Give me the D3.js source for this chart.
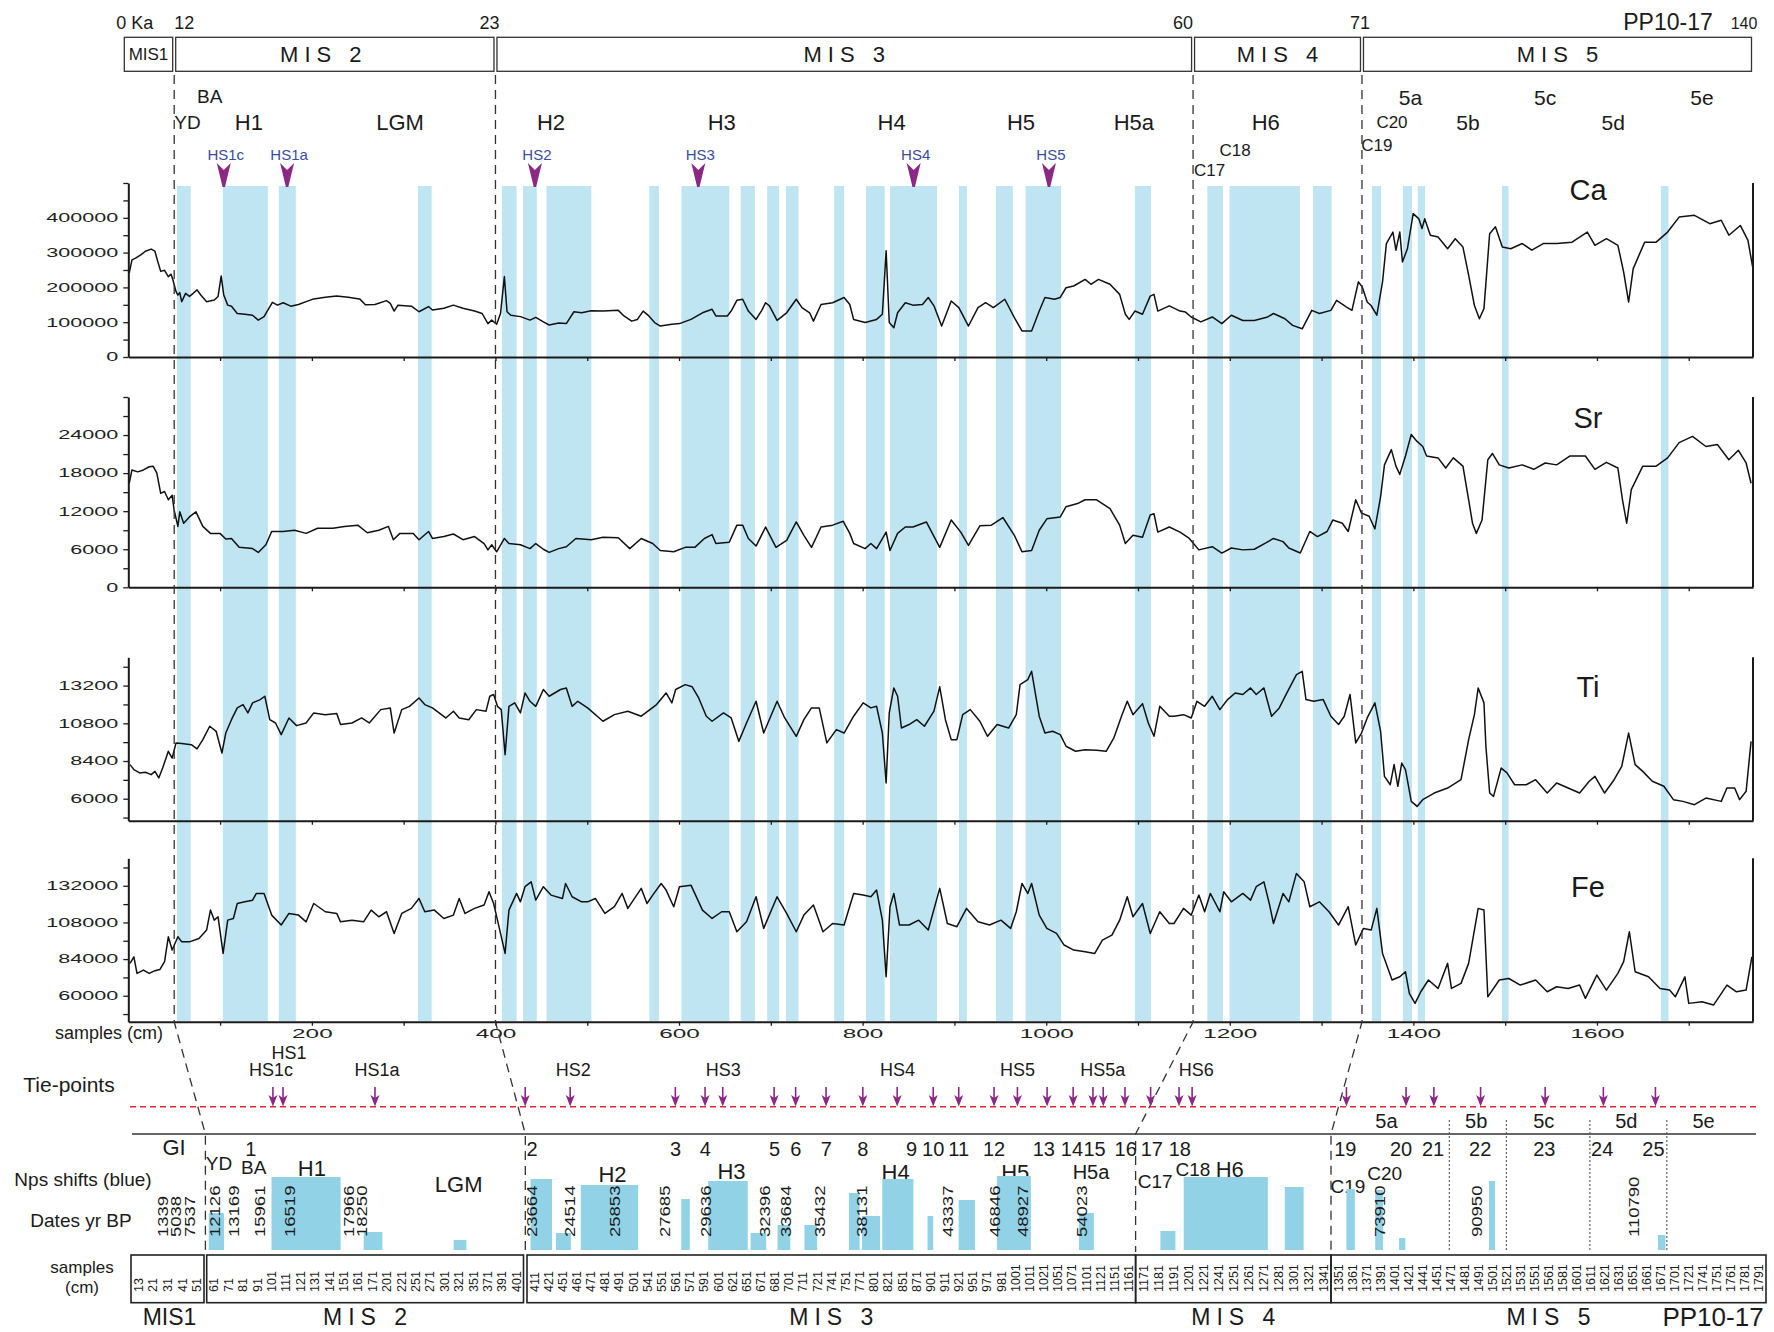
<!DOCTYPE html>
<html>
<head>
<meta charset="utf-8">
<script src="https://cdn.jsdelivr.net/npm/d3@7"></script>
<style>
  body { margin: 0; background: #fff; }
  svg { display: block; }
</style>
</head>
<body>
<div id="chart"></div>
<script>
// ---------- data ----------
// XRF counts per depth (cm)
const caData = [[1,241000],[4,279000],[8,284000],[14,294000],[18.6,304000],[24.9,310000],[29,304000],[32,275000],[35.3,246000],[39.5,249000],[43.6,231000],[46.6,238000],[48.6,222000],[52,188000],[54,178000],[56,185000],[58.2,159000],[62.4,183000],[66.6,174000],[70.7,183000],[74.9,193000],[79,178000],[85.3,159000],[93.7,164000],[97.8,174000],[101.2,233000],[104,178000],[108.3,149000],[112.4,146000],[118.7,125000],[127,123000],[135.4,120000],[141.6,106000],[147.9,116000],[152,135000],[157,157000],[162.5,149000],[168.7,156000],[177,146000],[185.4,151000],[193.7,159000],[202,167000],[214.6,172000],[227,175000],[239.6,172000],[252,167000],[258.3,150000],[268.7,151000],[281.3,162000],[285.4,154000],[289.6,132000],[293.8,149000],[308.4,146000],[316.7,130000],[327.1,145000],[331.3,135000],[343.8,140000],[354.2,149000],[364.6,140000],[377.2,132000],[385.5,125000],[391.8,96000],[395.9,106000],[401.3,94000],[405.5,125000],[409.7,231000],[412.6,130000],[416.8,120000],[427.2,116000],[437.6,106000],[443.9,114000],[452.2,101000],[458.5,92000],[468.9,98000],[477.2,96000],[485.5,130000],[493.9,127000],[504.3,133000],[517.1,132000],[533.8,134000],[540,118000],[548.4,103000],[554.6,108000],[560.9,132000],[567.1,118000],[573.4,99000],[579.6,89000],[592.2,94000],[600.5,96000],[613,108000],[625.5,127000],[636,137000],[640.1,118000],[652.6,118000],[656.8,132000],[663,163000],[669.3,166000],[675.5,132000],[683.9,108000],[690.1,134000],[694.3,156000],[698.5,147000],[706.8,105000],[717.2,127000],[727.7,166000],[733.9,142000],[742.3,127000],[746.4,103000],[754.7,151000],[767.3,156000],[779.8,171000],[786,151000],[790.2,108000],[802.7,99000],[815.2,108000],[821.5,123000],[825.6,305000],[829,99000],[834,84000],[838.1,127000],[846.5,156000],[854.8,149000],[865.2,151000],[871.5,171000],[877.7,147000],[886.1,89000],[896.5,161000],[904.8,142000],[915.3,89000],[925.7,142000],[934,156000],[942.4,142000],[954.9,166000],[965.3,113000],[973.6,75000],[984.1,75000],[992.4,132000],[998.6,171000],[1009.1,166000],[1015.3,171000],[1021.6,199000],[1029.9,204000],[1042.4,223000],[1048.7,209000],[1057,223000],[1069.5,209000],[1080,180000],[1086.2,123000],[1090.4,108000],[1096.6,132000],[1104.9,123000],[1113.3,175000],[1117.4,180000],[1121.6,132000],[1134.1,147000],[1145.8,132000],[1151.7,129000],[1158,115000],[1168.4,101000],[1180.9,115000],[1191.3,96000],[1201.7,120000],[1214.2,105000],[1226.7,105000],[1241.3,115000],[1247.6,125000],[1260.1,110000],[1268.4,91000],[1278.9,81000],[1289.3,134000],[1297.6,125000],[1310.1,134000],[1316.4,163000],[1326.8,144000],[1333.1,134000],[1340.1,216000],[1344.3,201000],[1349.7,158000],[1353.9,148000],[1360.2,120000],[1366.4,216000],[1370.6,326000],[1377.7,359000],[1381,307000],[1385.2,359000],[1388.1,273000],[1393.5,311000],[1399.8,412000],[1406,397000],[1409.4,369000],[1412.3,397000],[1418.5,350000],[1426.9,345000],[1437.3,311000],[1445.6,340000],[1454,316000],[1460.2,235000],[1466.5,148000],[1471.9,110000],[1476.9,139000],[1483.1,354000],[1489.4,374000],[1496.9,316000],[1506.1,311000],[1518.6,326000],[1529,307000],[1541.5,326000],[1556.1,326000],[1572.8,330000],[1589.5,359000],[1597.8,321000],[1610.3,340000],[1622.8,321000],[1629.1,244000],[1634.5,158000],[1639.5,254000],[1652,330000],[1664.5,330000],[1677,359000],[1689.5,402000],[1706.2,407000],[1722.9,383000],[1735.4,393000],[1743.7,350000],[1756.2,378000],[1764.5,335000],[1769.6,259000]];

const srData = [[1,16400],[4,18500],[10.3,18200],[16.5,18500],[22.8,19000],[27,19100],[31.1,18000],[35.3,14800],[39.5,15100],[43.6,13800],[47.8,14500],[49.9,12200],[54,9600],[56.1,11900],[60.3,10100],[66.6,11100],[73.7,11900],[81.2,9600],[89.5,8500],[99.9,8500],[106.2,7600],[112.4,7700],[120.8,6300],[135.4,6100],[141.6,5500],[149.9,6700],[156.2,8800],[168.7,8800],[181.2,9000],[193.7,8500],[206.2,9300],[222.9,9300],[235.4,9600],[250,9800],[260.4,8600],[272.9,9000],[283.4,9600],[288.8,7500],[295.9,8500],[310.4,8500],[316.7,7500],[327.1,8800],[331.3,7700],[343.8,8000],[354.2,8400],[364.6,7500],[377.2,8000],[387.6,6900],[391.8,5900],[395.9,6700],[401.3,5600],[409.7,7700],[414.7,6900],[427.2,6700],[437.6,6100],[443.9,6900],[452.2,6000],[458.5,5500],[468.9,6100],[477.2,6400],[487.6,7700],[504.3,7500],[517.1,7900],[533.8,7800],[546.3,6100],[558.8,7700],[571.3,6900],[579.6,5800],[594.2,5600],[606.7,6300],[617.2,6300],[627.6,7700],[636,8300],[640.1,6900],[654.7,7100],[663,9800],[669.3,9800],[675.5,7700],[683.9,6500],[694.3,9500],[705.6,6300],[717.2,7400],[727.7,10300],[736,8200],[744.3,6300],[754.7,9500],[767.3,9800],[778.9,10400],[786,8500],[790.2,6900],[802.7,6100],[809,6900],[815.2,6100],[825.6,8700],[829.8,5800],[838.1,8500],[846.5,9500],[854.8,9500],[869.4,10300],[884,6300],[896.5,10600],[906.9,8700],[915.3,6600],[927.7,9700],[940.3,9800],[952.8,11000],[965.3,8200],[973.6,5600],[984.1,5800],[992.4,9000],[1000.7,10800],[1015.3,11100],[1021.6,12700],[1034.1,13200],[1042.4,13800],[1054.9,13800],[1069.5,12400],[1080,9800],[1086.2,6900],[1094.5,8200],[1104.9,7900],[1113.3,11400],[1117.4,11600],[1121.6,8700],[1134.1,9500],[1145.8,8700],[1155.9,7700],[1166.3,5900],[1180.9,6400],[1191.3,5400],[1201.7,6200],[1214.2,5900],[1226.7,6000],[1239.3,7000],[1247.6,7700],[1258,7200],[1264.3,6200],[1276.8,5400],[1287.2,8800],[1295.5,8000],[1306,8800],[1312.2,10600],[1322.6,10100],[1329,8800],[1337.2,13800],[1343.5,11700],[1351.8,11200],[1358.1,9200],[1364.3,14300],[1368.5,19300],[1376,21700],[1381,19100],[1385.2,17800],[1391.4,20700],[1397.7,24100],[1404,23000],[1410.2,22200],[1414.4,20700],[1426.9,20400],[1435.2,18800],[1443.5,20400],[1454,19100],[1460.2,13800],[1464.4,10100],[1468.6,8500],[1474.8,10600],[1481.1,20100],[1486.1,21100],[1493.6,19300],[1504,18800],[1518.6,19300],[1531.1,18600],[1543.6,19600],[1556.1,19300],[1570.7,20700],[1587.4,20700],[1597.8,18600],[1610.3,19700],[1622.8,18800],[1627.8,13800],[1632.4,10100],[1637.4,15400],[1649.9,19100],[1664.5,19100],[1677,20400],[1689.5,22800],[1704.1,23800],[1718.7,22200],[1731.2,22500],[1743.7,20100],[1754.1,21600],[1762.5,19600],[1767.9,16400]];

const tiData = [[1.9,8170],[6.1,7850],[12.4,7640],[18.6,7680],[24.9,7530],[29,7740],[33.2,7320],[37.4,7950],[43.6,9020],[47.8,8590],[52,9550],[58.2,9510],[68.7,9440],[74.9,9170],[81.2,9760],[88.7,10610],[95.7,10290],[102,8910],[106.2,10180],[112.4,11030],[118.7,11780],[125,11990],[130.3,11460],[135.4,12100],[143.7,12310],[148.7,12520],[154.1,11030],[160.4,10820],[166.6,10080],[175,11140],[183.3,10650],[193.7,10820],[202,11460],[214.6,11350],[227.1,11420],[231.2,10720],[243.7,10820],[254.2,11140],[262.5,10820],[275,11670],[285.4,11780],[289.6,10180],[297.9,11670],[306.3,11880],[316.7,12410],[323,11990],[331.3,11780],[345.9,11140],[354.2,11570],[360.5,11140],[370.9,11030],[379.2,11670],[389.7,11570],[393.8,12520],[398,12630],[402.2,11880],[406.3,11670],[410.5,8800],[414.7,11880],[421,12100],[427.2,11460],[432.2,12730],[437.6,12200],[443.9,11880],[452.2,12950],[458.5,12520],[470.9,12950],[477.2,13050],[483.5,11880],[489.7,12200],[500.4,11780],[517.1,10930],[529.6,11350],[544.2,11570],[558.8,11250],[575.5,11990],[585.9,12730],[592.2,12100],[596.3,12950],[606.7,13260],[614.3,13120],[621.4,12410],[629.7,11250],[636,10930],[648.4,11460],[656.8,11140],[665.1,9650],[673.5,10820],[683.9,12200],[692.2,10180],[706.8,12200],[715.1,11140],[727.7,9970],[736,11030],[744.3,11780],[752.7,11780],[761,9550],[771.4,10400],[779.8,10180],[790.2,11250],[800.6,12100],[809,11780],[815.2,11880],[821.5,10180],[825.6,7000],[829,11460],[834,13050],[838.1,12520],[842.3,10500],[850.6,10720],[859,11030],[867.3,10610],[877.7,11570],[884,13120],[890.2,11030],[896.5,9760],[902.7,9760],[909,11350],[917.3,11670],[927.7,10930],[936.1,9970],[946.5,10720],[959,10500],[967.4,11350],[971.5,13260],[979.9,13580],[984.1,14110],[992.4,11250],[998.6,10180],[1007,10290],[1015.3,10080],[1021.6,9340],[1032,9020],[1042.4,9120],[1054.9,9080],[1065.3,9020],[1073.7,9870],[1082,11250],[1088.3,12200],[1094.5,11350],[1104.9,12050],[1111.2,10820],[1117.4,9970],[1123.7,11880],[1134.1,11250],[1139.2,11250],[1149.6,11350],[1158,11140],[1164.2,12200],[1172.6,11880],[1180.9,12520],[1189.2,11670],[1197.6,12310],[1205.9,12730],[1214.2,12630],[1222.6,13050],[1228.8,12630],[1237.2,13050],[1245.5,11250],[1253.9,11780],[1262.2,12730],[1272.6,13900],[1278.9,14110],[1283,12310],[1291.4,12200],[1301.8,12310],[1310.1,11250],[1318.5,10720],[1324.7,11250],[1331,12630],[1337.2,9550],[1343.5,10180],[1349.7,11140],[1358.1,12100],[1364.3,10290],[1368.5,7420],[1374.8,6890],[1379,8170],[1383.1,6790],[1387.3,8270],[1391.4,7850],[1397.7,5830],[1404,5510],[1410.2,5940],[1422.7,6360],[1437.3,6680],[1451.9,7210],[1460.2,9760],[1466.5,11350],[1470.6,13050],[1476.9,12100],[1479,9340],[1483.1,6360],[1487.3,6150],[1495.7,7950],[1502,7640],[1510.3,6890],[1522.9,6890],[1533.2,7210],[1545.8,6360],[1556.1,7000],[1568.6,6680],[1581.1,6360],[1591.6,7110],[1597.8,7420],[1608.3,6360],[1618.7,7210],[1627,8060],[1634.5,10180],[1641.6,8170],[1649.9,7740],[1660.3,7110],[1672.9,6790],[1683.3,5940],[1693.7,5830],[1706.2,5620],[1718.7,6040],[1735.4,5830],[1741.6,6680],[1750,6680],[1755.4,5940],[1762.5,6470],[1767.9,9650]];

const feData = [[1.9,81200],[6.1,85500],[9.5,74600],[16.5,76800],[22.8,74600],[29,76400],[34.5,77200],[39.5,82300],[43.6,98600],[47.8,89900],[54,98600],[58.2,95300],[66.6,95300],[77,97500],[85.3,103000],[89.5,116100],[93.7,109500],[97.8,111700],[103.3,87700],[108.3,109500],[114.5,110600],[118.7,120400],[127,121500],[135.4,122600],[139.5,127000],[147.9,127000],[156.2,112800],[166.6,106300],[175,113900],[185.4,112800],[193.7,108400],[202,120400],[214.6,115000],[227.1,113900],[231.2,108400],[243.7,109500],[256.3,108400],[264.6,116100],[272.9,111700],[281.3,115000],[289.6,100800],[297.9,113900],[308.4,117200],[316.7,123700],[323,115000],[333.4,116100],[343.8,110600],[354.2,112800],[360.5,123700],[366.8,113900],[377.2,117200],[387.6,119400],[393,128100],[398,120400],[402.2,109500],[410.5,87700],[414.7,116100],[423,127000],[427.2,121500],[432.2,131400],[438.9,134600],[443.9,122600],[452.2,131400],[460.5,125900],[473,123700],[476.4,133500],[483.5,124800],[493.9,121500],[500.4,121500],[508.8,123700],[519.2,113900],[529.6,118300],[538,127000],[544.2,117200],[558.8,130300],[565.1,120400],[571.3,125900],[580.5,133500],[585.9,129200],[594.2,118300],[600.5,131400],[613,132400],[625.5,116100],[636,110600],[646.4,115000],[654.7,115000],[663,101900],[673.5,108400],[683.9,124800],[692.2,104100],[706.8,124800],[717.2,113900],[727.7,101900],[736,112800],[746.4,119400],[756.8,101900],[767.3,107300],[779.8,106300],[790.2,127000],[800.6,125900],[809,124800],[815.2,129200],[821.5,109500],[825.6,72400],[829.8,118300],[834,127000],[840.2,106300],[850.6,106300],[861.1,109500],[871.5,103000],[884,130300],[892.3,107300],[902.7,105200],[913.2,117200],[925.7,108400],[938.2,106300],[950.7,109500],[961.2,104100],[967.4,115000],[973.6,133500],[979.9,127000],[984.1,133500],[992.4,112800],[1000.7,104100],[1011.2,100800],[1019.5,93200],[1030,89900],[1042.4,88800],[1052.9,87700],[1061.2,96400],[1071.6,99700],[1080,109500],[1088.3,124800],[1094.5,111700],[1104.9,120400],[1113.3,100800],[1123.7,115000],[1134.1,107300],[1139.2,107300],[1149.6,117200],[1158,112800],[1166.3,125900],[1172.6,115000],[1178.8,127000],[1189.2,115000],[1193.4,128100],[1201.7,121500],[1214.2,127000],[1222.6,122600],[1228.8,131400],[1237.2,134600],[1243.4,119400],[1247.6,107300],[1258,127000],[1264.3,121500],[1272.6,140100],[1281,134600],[1287.2,118300],[1297.6,121500],[1308.1,115000],[1318.5,106300],[1329,118300],[1337.2,93200],[1345.6,104100],[1354,103000],[1360.2,117200],[1366.4,87700],[1376.8,70300],[1385.2,72400],[1391.4,75700],[1395.6,61500],[1401.8,55000],[1408.1,62600],[1416.4,70300],[1426.9,64800],[1437.3,81200],[1441.5,64800],[1451.9,68100],[1460.2,81200],[1466.5,103000],[1470.6,117200],[1476.9,116100],[1481.1,59300],[1493.6,70300],[1504,71300],[1516.5,67000],[1533.2,70300],[1545.8,62600],[1556.1,65900],[1568.6,64800],[1581.1,67000],[1587.4,58300],[1599.9,73500],[1610.3,63700],[1622.8,74600],[1629.1,82300],[1635.3,101900],[1641.6,75700],[1656.2,72400],[1668.7,64800],[1679.1,63700],[1685.4,59300],[1695.8,72400],[1700,55000],[1714.5,56100],[1727,53900],[1741.6,67000],[1752,62600],[1762.5,63700],[1768.8,85500]];

// tick labels
const caTicks = [0, 100000, 200000, 300000, 400000];
const srTicks = [0, 6000, 12000, 18000, 24000];
const tiTicks = [6000, 8400, 10800, 13200];
const feTicks = [60000, 84000, 108000, 132000];
const xTickLabels = [200, 400, 600, 800, 1000, 1200, 1400, 1600];

// blue shaded intervals (cm)
const shadedCm = [[53,68],[103,152],[164,182.5],[315.5,330.5],[407,423],[430,445],[455.6,504.5],[567.6,578],[602.6,654.8],[667.2,682.6],[696,709],[716.4,730.2],[769,779.8],[803.6,824],[829.8,881],[905,913.6],[945.3,963.6],[977.5,1016.2],[1096.6,1114.2],[1175.5,1192.6],[1199.7,1276.4],[1290.6,1311],[1354.8,1364.8],[1388.6,1398.5],[1404.8,1412.7],[1496.5,1503.7],[1669.6,1677.9]];

// MIS boundaries (cm) and header
const misBoundsCm = [50, 400, 1160, 1344];
const misNames = ['MIS1', 'MIS 2', 'MIS 3', 'MIS 4', 'MIS 5'];
const ageLabels = [['0 Ka', 0], ['12', 50], ['23', 400], ['60', 1160], ['71', 1344], ['140', 1770]];
const topEvents = [['BA',88.7],['YD',64.5],['H1',131.3],['LGM',296],['H2',460.5],['H3',646.5],['H4',831.6],['H5',972.5],['H5a',1095.5],['H6',1239.2],['5a',1396.9],['5c',1543.6],['5e',1714.4],['C20',1376.7],['5b',1459.4],['5d',1617.8],['C18',1205.7],['C19',1360.2],['C17',1178]];
const hsTop = [['HS1c',104],['HS1a',173],['HS2',443],['HS3',621],['HS4',855.6],['HS5',1003]];

// bottom table: sampled depths (cm) grouped by MIS
const sampleGroups = [
  [13,21,31,41,51],
  [61,71,81,91,101,111,121,131,141,151,161,171,201,221,251,271,301,321,351,371,391,401],
  [411,421,451,461,471,481,491,501,541,551,561,571,591,601,621,651,671,681,701,711,721,741,751,771,801,821,851,871,901,911,921,951,971,981,1001,1011,1021,1051,1071,1101,1121,1151,1161],
  [1171,1181,1191,1201,1221,1241,1251,1261,1271,1281,1301,1321,1341],
  [1351,1361,1371,1391,1401,1421,1441,1451,1471,1481,1491,1501,1521,1531,1551,1561,1581,1601,1611,1621,1631,1651,1661,1671,1701,1721,1741,1751,1761,1781,1791]
];
const tiePointsCm = [102,109,176.6,406,456.5,560.8,591.8,607.6,680.6,705.8,733.6,777.8,840.6,903,921.1,976,1002.5,1028.4,1073.6,1110.7,1127.4,1158.5,1176,1194.9,1206.2,1357,1418,1449.3,1492.6,1558.6,1620.1,1667.2];
const tieLabels = [['HS1',113.2],['HS1c',100.7],['HS1a',180.8],['HS2',458.7],['HS3',608.2],['HS4',841.5],['HS5',1002.5],['HS5a',1126.5],['HS6',1211.6]];
const giLabels = [['1',86.6],['2',409.8],['3',561],['4',592],['5',681],['6',706],['7',734],['8',778],['9',864.3],['10',903],['11',921],['12',976],['13',1021.6],['14',1071],['15',1113],['16',1159],['17',1176.8],['18',1195.4],['19',1356.2],['20',1410.9],['21',1448.7],['22',1492.3],['23',1558],['24',1619.3],['25',1665.8]];
const substageCuts = [1469.6, 1520.9, 1610.5, 1684];
const substageLabels = [['5a',1395.5],['5b',1489.5],['5c',1557.6],['5d',1642],['5e',1741.5]];
const bottomEvents = [['YD',64.5],['BA',88.6],['H1',129],['LGM',320.9],['H2',486.4],['H3',619.9],['H4',837.3],['H5',1001],['H5a',1108],['C17',1179],['C18',1207.4],['H6',1248.6],['C19',1358],['C20',1394.2]];
// Nps shifts: [from cm, to cm, relative amplitude]
const npsShifts = [[58,68,37],[101,149,73],[165,192,18],[314,337,10],[409,429,71],[437.5,457,17],[464,515,65],[565,571,51],[594,653,69],[657,675,17],[685,702,25],[712,721,25],[756,771,57],[776,810,34],[813,867,71],[895,903,34],[921,954,50],[978,1012,74],[1086,1112,37],[1182.5,1192.5,19],[1198,1274,73],[1289.5,1314.6,63],[1357,1363,61],[1384,1393,60],[1408,1417,12],[1498.6,1504.7,69],[1669,1681,15]];
// dates yr BP and their depth (cm)
const datesBP = [[1339,27.6],[5038,36.8],[7537,46.5],[12126,61.8],[13169,74.5],[15961,92.7],[16519,113.6],[17966,154.3],[18250,163.6],[23664,409.8],[24514,456.5],[25853,488],[27685,553.5],[29636,592.3],[32396,674.2],[33684,696.5],[35432,724],[38131,775.2],[43337,913.3],[46846,976.3],[48927,1006.5],[54023,1091.4],[73910,1390.9],[90950,1489.5],[110790,1652]];

// ---------- setup ----------
const W = 1774, H = 1332;
const FONT = '"Liberation Sans", Arial, Helvetica, sans-serif';
const INK = '#1a1a1a';
const BAND = '#bfe5f2';
const BAR = '#92d2e6';
const PURPLE = '#8b2785';
const HSBLUE = '#3b4b9d';

const svg = d3.select('#chart').append('svg')
  .attr('width', W).attr('height', H)
  .attr('viewBox', `0 0 ${W} ${H}`)
  .style('font-family', FONT);

svg.append('rect').attr('width', W).attr('height', H).attr('fill', '#fff');

const x = d3.scaleLinear().domain([0, 1770]).range([128.3, 1753]);

const addText = (g, txt, px, py, size, opts = {}) => g.append('text')
  .attr('x', px).attr('y', py)
  .attr('text-anchor', opts.anchor || 'middle')
  .attr('fill', opts.fill || INK)
  .style('font-size', `${size}px`)
  .style('letter-spacing', opts.spacing || null)
  .text(txt);

// ---------- shaded intervals ----------
svg.append('g').selectAll('rect')
  .data(shadedCm)
  .join('rect')
  .attr('x', d => x(d[0]))
  .attr('width', d => x(d[1]) - x(d[0]))
  .attr('y', 186)
  .attr('height', 1021 - 186)
  .attr('fill', BAND);

// ---------- header ----------
const header = svg.append('g');
const misEdges = [0, ...misBoundsCm, 1770];
const misBoxes = misNames.map((name, i) => ({
  name,
  x0: i === 0 ? x(misEdges[i]) - 4 : x(misEdges[i]) + 1.5,
  x1: x(misEdges[i + 1]) - 1.5
}));

header.selectAll('rect.mis')
  .data(misBoxes)
  .join('rect')
  .attr('x', d => d.x0).attr('y', 37.3)
  .attr('width', d => d.x1 - d.x0).attr('height', 34)
  .attr('fill', 'none').attr('stroke', '#333').attr('stroke-width', 1.3);

misBoxes.forEach((b, i) => {
  const cx = (b.x0 + b.x1) / 2 + (i === 1 ? -14 : 0);
  if (i === 0) addText(header, b.name, cx, 60, 17);
  else addText(header, b.name, cx + 3, 62, 22, { spacing: '6px' });
});

const ageDx = [-12, 10, -6, -10, -2, -9];
ageLabels.forEach(([t, cm], i) => {
  addText(header, t, x(cm) + ageDx[i], 29, i === 5 ? 16 : 18, { anchor: i === 0 ? 'start' : 'middle' });
});
addText(header, 'PP10-17', 1668, 30, 23);

const topRowY = { BA: 96, '5a': 97, '5c': 97, '5e': 97, C18: 150, C19: 145, C17: 170 };
const topSize = t => /^C/.test(t) ? 17 : (/^(BA|YD)$/.test(t) ? 19 : (/^5/.test(t) ? 21 : 22));
topEvents.forEach(([t, cm]) => {
  const s = topSize(t);
  const cy = topRowY[t] !== undefined ? topRowY[t] : 122;
  addText(header, t, x(cm), cy + s * 0.36, s);
});

// HS arrows at the top
const hsG = header.selectAll('g.hs')
  .data(hsTop)
  .join('g')
  .attr('transform', d => `translate(${x(d[1])},0)`);
hsG.append('path')
  .attr('d', 'M-7,163 L0,170 L7,163 L1.2,187 L-1.2,187 Z')
  .attr('fill', PURPLE);
hsG.append('text')
  .attr('x', 2).attr('y', 159.5)
  .attr('text-anchor', 'middle')
  .attr('fill', HSBLUE)
  .style('font-size', '15px')
  .text(d => d[0]);

// ---------- element panels ----------
const panels = [
  { name: 'Ca', data: caData, domain: [0, 500000], range: [357, 183], labels: caTicks, minor: d3.range(0, 500001, 50000), nameY: 190 },
  { name: 'Sr', data: srData, domain: [0, 30000], range: [587.3, 397], labels: srTicks, minor: d3.range(0, 30001, 3000), nameY: 418 },
  { name: 'Ti', data: tiData, domain: [4600, 15000], range: [820.7, 657.3], labels: tiTicks, minor: d3.range(4800, 15000, 1200), nameY: 686.5 },
  { name: 'Fe', data: feData, domain: [43000, 150000], range: [1021.7, 858.3], labels: feTicks, minor: d3.range(48000, 150000, 12000), nameY: 887 }
];

panels.forEach(p => {
  const y = d3.scaleLinear().domain(p.domain).range(p.range);
  const g = svg.append('g').attr('class', `panel-${p.name}`);

  g.append('path')
    .datum(p.data)
    .attr('d', d3.line().x(d => x(d[0])).y(d => y(d[1])))
    .attr('fill', 'none')
    .attr('stroke', '#111')
    .attr('stroke-width', 1.5)
    .attr('stroke-linejoin', 'round');

  // left axis
  const yAxis = g.append('g')
    .attr('transform', `translate(${x(0)},0)`)
    .call(d3.axisLeft(y).tickValues(p.minor).tickSize(5).tickSizeOuter(0)
      .tickFormat(d => p.labels.includes(d) ? d : ''));
  yAxis.select('.domain').attr('stroke', INK).attr('stroke-width', 2);
  yAxis.selectAll('.tick line').attr('stroke', INK).attr('stroke-width', 1.3);
  yAxis.selectAll('.tick text')
    .attr('x', -5.6)
    .attr('transform', 'scale(1.8,1)')
    .attr('fill', '#222')
    .style('font-size', '12px')
    .style('font-family', FONT);

  // bottom axis
  const xAxis = g.append('g')
    .attr('transform', `translate(0,${p.range[0]})`)
    .call(d3.axisBottom(x).tickValues(d3.range(100, 1800, 100)).tickSize(4).tickSizeOuter(0)
      .tickFormat(d => (p.name === 'Fe' && xTickLabels.includes(d)) ? d : ''));
  xAxis.select('.domain').attr('stroke', INK).attr('stroke-width', 2);
  xAxis.selectAll('.tick line').attr('stroke', INK).attr('stroke-width', 1.3);
  xAxis.selectAll('.tick text')
    .attr('transform', 'scale(1.8,1)')
    .attr('fill', '#222')
    .style('font-size', '13.5px')
    .style('font-family', FONT);

  // right frame
  g.append('line')
    .attr('x1', x(1770)).attr('x2', x(1770))
    .attr('y1', p.range[1]).attr('y2', p.range[0])
    .attr('stroke', INK).attr('stroke-width', 2);

  addText(g, p.name, 1588, p.nameY + 10, 29);
});

addText(svg, 'samples (cm)', 55, 1039, 18, { anchor: 'start' });

// ---------- bottom table scales ----------
const boxEdges = [[131, 204], [206.7, 523.5], [527, 1135.6], [1135.6, 1331], [1331, 1766]];
const tableDomain = [], tableRange = [];
const sampleCells = [];
sampleGroups.forEach((grp, i) => {
  const band = d3.scaleBand().domain(grp).range(boxEdges[i]);
  grp.forEach(s => {
    const cx = band(s) + band.bandwidth() / 2;
    tableDomain.push(s);
    tableRange.push(cx);
    sampleCells.push({ s, cx });
  });
});
const tx = d3.scaleLinear().domain(tableDomain).range(tableRange);
const hy = d3.scaleLinear().domain([0, 75]).range([1250, 1175]);

// ---------- MIS dashed connectors ----------
const tableBounds = [205.4, 525.3, 1135.6, 1331];
svg.append('g').selectAll('path')
  .data(misBoundsCm)
  .join('path')
  .attr('d', (d, i) => `M${x(d)},75 V1022 L${tableBounds[i]},1134 V1252`)
  .attr('fill', 'none')
  .attr('stroke', '#333')
  .attr('stroke-width', 1.3)
  .attr('stroke-dasharray', '9,6');

// ---------- tie points ----------
const bottom = svg.append('g');
addText(bottom, 'Tie-points', 69, 1092, 21);

bottom.append('line')
  .attr('x1', 130).attr('x2', 1756)
  .attr('y1', 1106.7).attr('y2', 1106.7)
  .attr('stroke', '#e0262e').attr('stroke-width', 1.5)
  .attr('stroke-dasharray', '6,4');

const tp = bottom.selectAll('g.tp')
  .data(tiePointsCm)
  .join('g')
  .attr('transform', d => `translate(${tx(d)},1087)`);
tp.append('line').attr('y1', 0).attr('y2', 16).attr('stroke', PURPLE).attr('stroke-width', 1.6);
tp.append('path').attr('d', 'M-4.5,8 L0,19.5 L4.5,8 L0,11 Z').attr('fill', PURPLE);

tieLabels.forEach(([t, cm]) => {
  addText(bottom, t, tx(cm), t === 'HS1' ? 1058.5 : 1076, 18);
});

// ---------- GI row ----------
bottom.append('line')
  .attr('x1', 132).attr('x2', 1756)
  .attr('y1', 1134).attr('y2', 1134)
  .attr('stroke', '#333').attr('stroke-width', 1.6);

addText(bottom, 'GI', 174, 1155, 22);
giLabels.forEach(([t, cm]) => addText(bottom, t, tx(cm), 1156, 20));

// substages of MIS 5
bottom.selectAll('line.sub')
  .data(substageCuts)
  .join('line')
  .attr('x1', d => tx(d)).attr('x2', d => tx(d))
  .attr('y1', 1120).attr('y2', 1250)
  .attr('stroke', '#555').attr('stroke-width', 1.1)
  .attr('stroke-dasharray', '2,2');
substageLabels.forEach(([t, cm]) => addText(bottom, t, tx(cm), 1128, 20));

// event labels in the table
const bottomEventY = { YD: 1163, BA: 1167, H1: 1168, LGM: 1184, H2: 1174, H3: 1171, H4: 1172, H5: 1172, H5a: 1172, C17: 1181, C18: 1169, H6: 1169, C19: 1186, C20: 1173 };
const bottomEventSize = { YD: 19, BA: 19, C17: 19, C18: 19, C19: 19, C20: 19, H5a: 20 };
bottomEvents.forEach(([t, cm]) => {
  const s = bottomEventSize[t] || 22;
  addText(bottom, t, tx(cm), bottomEventY[t] + s * 0.36, s);
});

// Nps shifts bars
bottom.append('g').selectAll('rect')
  .data(npsShifts)
  .join('rect')
  .attr('x', d => tx(d[0]))
  .attr('width', d => tx(d[1]) - tx(d[0]))
  .attr('y', d => hy(d[2]))
  .attr('height', d => hy(0) - hy(d[2]))
  .attr('fill', BAR);

// dates (narrow rotated numerals)
bottom.append('g').selectAll('text')
  .data(datesBP)
  .join('text')
  .attr('transform', d => `translate(${tx(d[1])},1237) rotate(-90) scale(1,0.8)`)
  .attr('dy', '0.36em')
  .attr('fill', INK)
  .style('font-size', '18.5px')
  .text(d => d[0]);

// row titles
addText(bottom, 'Nps shifts (blue)', 83, 1186, 19);
addText(bottom, 'Dates yr BP', 81, 1227, 19);
addText(bottom, 'samples', 82, 1273, 17);
addText(bottom, '(cm)', 82, 1293, 17);

// samples boxes
bottom.selectAll('rect.box')
  .data(boxEdges)
  .join('rect')
  .attr('x', d => d[0]).attr('y', 1255)
  .attr('width', d => d[1] - d[0]).attr('height', 47.7)
  .attr('fill', 'none').attr('stroke', '#222').attr('stroke-width', 1.6);

bottom.append('g').selectAll('text')
  .data(sampleCells)
  .join('text')
  .attr('transform', d => `translate(${d.cx},1292) rotate(-90)`)
  .attr('dy', '0.36em')
  .attr('fill', INK)
  .style('font-size', '12.5px')
  .text(d => d.s);

boxEdges.forEach((b, i) => {
  const cx = (b[0] + b[1]) / 2;
  if (i === 0) addText(bottom, misNames[i], cx + 2, 1325, 23);
  else addText(bottom, misNames[i], cx + 3, 1325, 23, { spacing: '6px' });
});
addText(bottom, 'PP10-17', 1713, 1326, 26);
</script>
</body>
</html>
